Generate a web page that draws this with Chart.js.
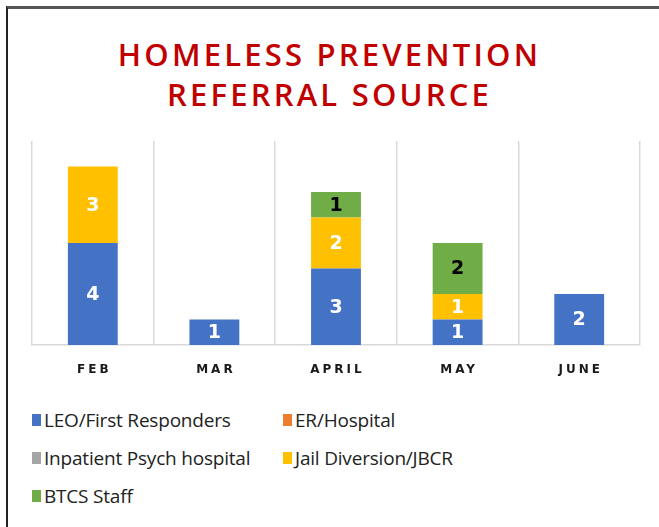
<!DOCTYPE html>
<html>
<head>
<meta charset="utf-8">
<script src="https://cdn.jsdelivr.net/npm/chart.js@4"></script>
<style>
  html, body { margin: 0; background: #fff; overflow: hidden; }
  body { width: 659px; height: 527px; position: relative; font-family: "Open Sans", sans-serif; }
  #frame { position: absolute; left: 6px; top: 6px; width: 900px; height: 800px; border-left: 2px solid #222; border-top: 3px solid #555; }
  #title { position: absolute; left: 0; width: 659px; top: 34px; text-align: center; color: #C00000; font-size: 31px; font-weight: 600; letter-spacing: 3.2px; line-height: 40px; }
  #wrap { position: absolute; left: 0; top: 0; width: 659px; height: 390px; }
  #legend { position: absolute; left: 32px; top: 405px; display: grid; grid-template-columns: 251px auto; row-gap: 8px; font-size: 19px; color: #222; letter-spacing: -0.2px; }
  .item { display: flex; align-items: center; height: 30px; white-space: nowrap; }
  .box { width: 9px; height: 12px; margin-right: 3px; }
</style>
</head>
<body>
<div id="frame"></div>
<div id="title">HOMELESS PREVENTION<br>REFERRAL SOURCE</div>
<div id="wrap"><canvas id="chart"></canvas></div>
<div id="legend"></div>
<script>
const months = ["FEB", "MAR", "APRIL", "MAY", "JUNE"];
const leo = [4, 1, 3, 1, 2];
const erHospital = [0, 0, 0, 0, 0];
const inpatient = [0, 0, 0, 0, 0];
const jail = [3, 0, 2, 1, 0];
const btcs = [0, 0, 1, 2, 0];

const seriesNames = ["LEO/First Responders", "ER/Hospital", "Inpatient Psych hospital", "Jail Diversion/JBCR", "BTCS Staff"];
const seriesColors = ["#4472C4", "#ED7D31", "#A5A5A5", "#FFC000", "#70AD47"];
const labelColors = ["#fff", "#fff", "#fff", "#fff", "#000"];
const seriesData = [leo, erHospital, inpatient, jail, btcs];

// numbers inside the bar segments
const valueLabels = {
  id: "valueLabels",
  afterDatasetsDraw(chart) {
    const ctx = chart.ctx;
    ctx.save();
    ctx.font = "bold 19px 'DejaVu Sans', sans-serif";
    ctx.textAlign = "center";
    ctx.textBaseline = "middle";
    chart.data.datasets.forEach((ds, i) => {
      const meta = chart.getDatasetMeta(i);
      meta.data.forEach((bar, j) => {
        const v = ds.data[j];
        if (!v) return;
        const p = bar.getCenterPoint();
        ctx.fillStyle = labelColors[i];
        ctx.fillText(v, p.x, p.y + 1);
      });
    });
    ctx.restore();
  }
};

// spaced out month labels under the axis
const monthLabels = {
  id: "monthLabels",
  afterDraw(chart) {
    const ctx = chart.ctx;
    const xs = chart.scales.x;
    ctx.save();
    ctx.font = "bold 12px 'DejaVu Sans', sans-serif";
    ctx.letterSpacing = "3px";
    ctx.fillStyle = "#1a1a1a";
    ctx.textAlign = "left";
    ctx.textBaseline = "middle";
    months.forEach((m, i) => {
      const w = ctx.measureText(m).width - 3;
      ctx.fillText(m, xs.getPixelForValue(i) - w / 2, 370);
    });
    ctx.restore();
  }
};

const ctx = document.getElementById("chart").getContext("2d");
new Chart(ctx, {
  type: "bar",
  data: {
    labels: months,
    datasets: seriesNames.map((name, i) => ({
      label: name,
      data: seriesData[i],
      backgroundColor: seriesColors[i],
      borderWidth: 0,
      barPercentage: 0.41,
      categoryPercentage: 1
    }))
  },
  options: {
    responsive: true,
    maintainAspectRatio: false,
    animation: false,
    layout: { padding: { left: 32, right: 19, top: 141, bottom: 45 } },
    plugins: { legend: { display: false }, title: { display: false }, tooltip: { enabled: false } },
    scales: {
      x: {
        stacked: true,
        grid: { offset: true, color: "#d9d9d9", lineWidth: 1.5, drawTicks: false },
        border: { display: true, color: "#d9d9d9", width: 1.5 },
        ticks: { display: false }
      },
      y: {
        stacked: true,
        display: false,
        min: 0,
        max: 8
      }
    }
  },
  plugins: [valueLabels, monthLabels]
});

const legend = document.getElementById("legend");
seriesNames.forEach((name, i) => {
  const item = document.createElement("div");
  item.className = "item";
  item.innerHTML = `<span class="box" style="background:${seriesColors[i]}"></span>${name}`;
  legend.appendChild(item);
});
</script>
</body>
</html>
